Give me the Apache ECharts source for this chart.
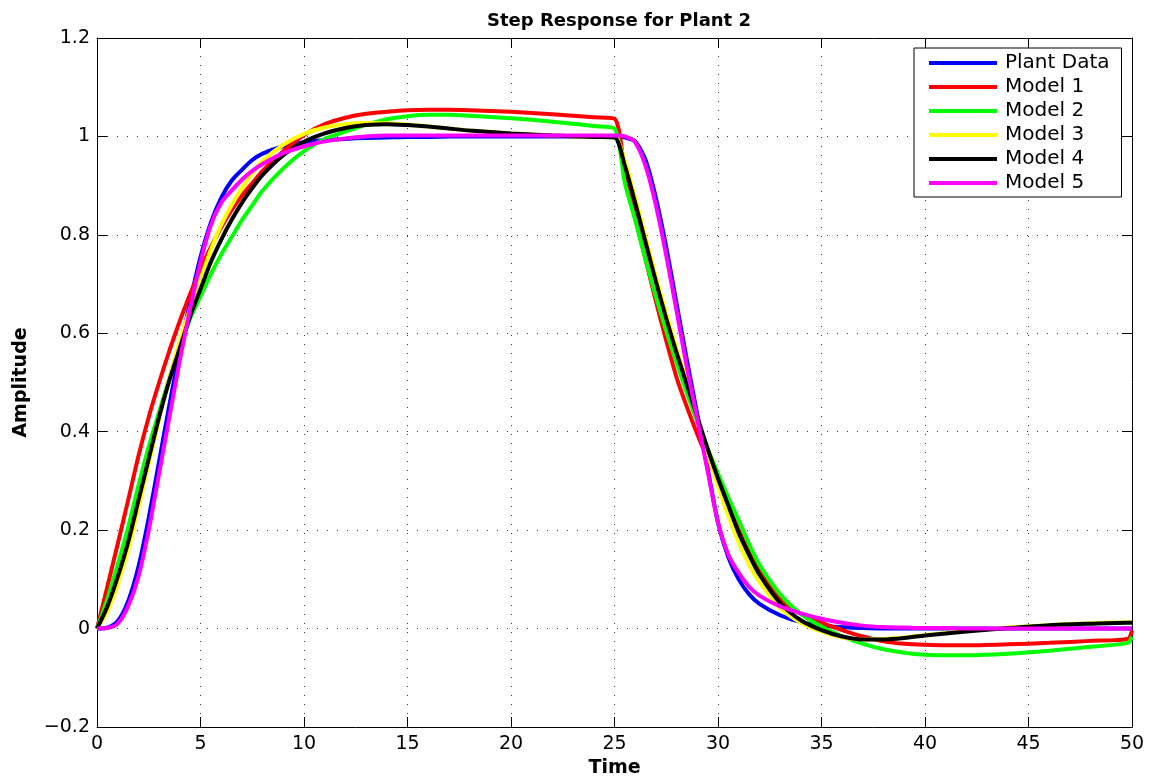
<!DOCTYPE html>
<html>
<head>
<meta charset="utf-8">
<script src="https://cdn.jsdelivr.net/npm/echarts@6/dist/echarts.min.js"></script>
<style>
  html, body { margin: 0; padding: 0; background: #fff; }
  #chart { width: 1150px; height: 783px; }
</style>
</head>
<body>
<div id="chart"></div>
<script>
// Sample times (s): input steps up at t = 0 and back down at t = 25
const timeSec = [
  0, 0.5, 1, 1.5, 2, 2.5, 3, 3.5, 4, 4.5, 5, 5.5, 6, 6.5, 7, 7.5, 8,
  9, 10, 11, 12, 13, 14, 15, 16, 17, 18, 20, 22, 24, 25,
  25.5, 26, 26.5, 27, 27.5, 28, 28.5, 29, 29.5, 30, 30.5, 31, 31.5, 32,
  33, 34, 35, 36, 37, 38, 39, 40, 41, 42, 44, 46, 48, 49.8, 50
];

const plantData = [
  0, 0.002, 0.015, 0.055, 0.125, 0.225, 0.34, 0.455, 0.565, 0.665,
  0.755, 0.825, 0.875, 0.91, 0.932, 0.952, 0.965, 0.98, 0.988, 0.993,
  0.995, 0.997, 0.998, 0.999, 0.999, 1.0, 1.0, 1.0, 1.0, 1.0, 1.0,
  0.998, 0.99, 0.952, 0.875, 0.775, 0.66, 0.545, 0.435, 0.325, 0.215,
  0.145, 0.1, 0.07, 0.05, 0.027, 0.013, 0.006, 0.003, 0.001, 0,
  0, 0, 0, 0, 0, 0, 0, 0, 0
];

const model1 = [
  0, 0.085, 0.172, 0.26, 0.35, 0.43, 0.5, 0.565, 0.625, 0.68,
  0.73, 0.775, 0.815, 0.85, 0.88, 0.905, 0.93, 0.97, 1.003, 1.025,
  1.038, 1.046, 1.05, 1.053, 1.054, 1.054, 1.053, 1.05, 1.045, 1.039, 1.036,
  0.93, 0.835, 0.75, 0.665, 0.585, 0.51, 0.45, 0.395, 0.345, 0.3,
  0.248, 0.2, 0.155, 0.118, 0.06, 0.03, 0.012, -0.003, -0.016, -0.026,
  -0.031, -0.033, -0.034, -0.034, -0.032, -0.029, -0.025, -0.021, -0.004
];

const model2 = [
  0, 0.06, 0.13, 0.205, 0.29, 0.37, 0.44, 0.51, 0.57, 0.63,
  0.675, 0.72, 0.76, 0.795, 0.83, 0.86, 0.89, 0.935, 0.97, 0.995,
  1.01, 1.024, 1.035, 1.041, 1.044, 1.044, 1.042, 1.037, 1.03, 1.021, 1.016,
  0.905, 0.83, 0.75, 0.675, 0.605, 0.54, 0.478, 0.42, 0.366, 0.315,
  0.266, 0.22, 0.172, 0.13, 0.07, 0.03, 0.004, -0.016, -0.031, -0.042,
  -0.049, -0.053, -0.054, -0.054, -0.051, -0.045, -0.037, -0.029, -0.017
];

const model3 = [
  0, 0.035, 0.09, 0.16, 0.245, 0.335, 0.425, 0.51, 0.585, 0.65,
  0.71, 0.77, 0.82, 0.86, 0.895, 0.925, 0.95, 0.983, 1.005, 1.018,
  1.025, 1.028, 1.027, 1.024, 1.02, 1.016, 1.012, 1.006, 1.002, 0.999, 0.999,
  0.95, 0.875, 0.795, 0.715, 0.64, 0.568, 0.5, 0.43, 0.355, 0.29,
  0.228, 0.175, 0.13, 0.095, 0.042, 0.012, -0.006, -0.018, -0.022, -0.021,
  -0.018, -0.013, -0.009, -0.005, 0.002, 0.007, 0.011, 0.013, 0.013
];

const model4 = [
  0, 0.045, 0.105, 0.175, 0.26, 0.345, 0.43, 0.505, 0.57, 0.635,
  0.69, 0.745, 0.79, 0.83, 0.865, 0.895, 0.922, 0.962, 0.989, 1.006,
  1.017, 1.023, 1.025, 1.023, 1.02, 1.016, 1.012, 1.006, 1.002, 0.999, 0.998,
  0.94, 0.865, 0.785, 0.705, 0.63, 0.56, 0.495, 0.43, 0.365, 0.305,
  0.25, 0.195, 0.15, 0.11, 0.052, 0.017, -0.003, -0.016, -0.022, -0.022,
  -0.019, -0.014, -0.01, -0.006, 0.001, 0.007, 0.01, 0.012, 0.012
];

const model5 = [
  0, 0.001, 0.01, 0.045, 0.105, 0.2, 0.315, 0.43, 0.545, 0.65,
  0.745, 0.82, 0.865, 0.89, 0.912, 0.93, 0.944, 0.966, 0.98, 0.99,
  0.996, 1.0, 1.002, 1.002, 1.002, 1.002, 1.002, 1.002, 1.002, 1.002, 1.002,
  1.0, 0.988, 0.94, 0.86, 0.758, 0.645, 0.53, 0.425, 0.32, 0.215,
  0.15, 0.113, 0.085, 0.067, 0.045, 0.031, 0.02, 0.012, 0.006, 0.003,
  0.002, 0.001, 0.001, 0, 0, 0, 0, 0, 0
];

const seriesNames = ['Plant Data', 'Model 1', 'Model 2', 'Model 3', 'Model 4', 'Model 5'];
const seriesValues = [plantData, model1, model2, model3, model4, model5];
const seriesColors = ['#0000ff', '#ff0000', '#00ff00', '#ffff00', '#000000', '#ff00ff'];

const xTickStep = 5;
const yTickStep = 0.2;

const FONT = 'DejaVu Sans';

function yLabel(v) {
  const r = Math.round(v * 10) / 10;
  return (r < 0 ? '\u2212' : '') + String(Math.abs(r));
}

const dottedGrid = (dash) => ({
  show: true,
  lineStyle: { color: '#3a3a3a', width: 1, type: dash }
});

const chart = echarts.init(document.getElementById('chart'), null, { renderer: 'canvas' });

chart.setOption({
  animation: false,
  backgroundColor: '#ffffff',
  title: {
    text: 'Step Response for Plant 2',
    left: 614,
    textAlign: 'center',
    top: 7,
    textStyle: { fontFamily: FONT, fontSize: 18, fontWeight: 'bold', color: '#000' }
  },
  grid: {
    left: 97, right: 18, top: 38, bottom: 56,
    containLabel: false,
    outerBoundsMode: 'none'
  },
  legend: {
    orient: 'vertical',
    left: 914,
    top: 48,
    data: seriesNames,
    icon: 'rect',
    itemWidth: 68,
    itemHeight: 4,
    itemGap: 4,
    padding: [5, 12, 4, 15],
    backgroundColor: '#ffffff',
    borderColor: '#000000',
    borderWidth: 1,
    borderRadius: 0,
    textStyle: {
      fontFamily: FONT, fontSize: 20, lineHeight: 20, color: '#000',
      padding: [0, 0, 0, 3]
    }
  },
  xAxis: [
    {
      type: 'value', min: 0, max: 50, interval: xTickStep, position: 'bottom',
      name: 'Time', nameLocation: 'middle', nameGap: 30,
      nameTextStyle: { fontFamily: FONT, fontSize: 19, fontWeight: 'bold', color: '#000' },
      axisLine: { show: true, onZero: false, lineStyle: { color: '#000', width: 1 } },
      axisTick: { show: true, inside: true, length: 10, lineStyle: { color: '#000' } },
      axisLabel: { fontFamily: FONT, fontSize: 19, color: '#000', margin: 8 },
      splitLine: dottedGrid([1, 8])
    },
    {
      type: 'value', min: 0, max: 50, interval: xTickStep, position: 'top',
      axisLine: { show: true, onZero: false, lineStyle: { color: '#000', width: 1 } },
      axisTick: { show: true, inside: true, length: 10, lineStyle: { color: '#000' } },
      axisLabel: { show: false },
      splitLine: { show: false }
    }
  ],
  yAxis: [
    {
      type: 'value', min: -0.2, max: 1.2, interval: yTickStep, position: 'left',
      name: 'Amplitude', nameLocation: 'middle', nameGap: 66,
      nameTextStyle: { fontFamily: FONT, fontSize: 19, fontWeight: 'bold', color: '#000' },
      axisLine: { show: true, onZero: false, lineStyle: { color: '#000', width: 1 } },
      axisTick: { show: true, inside: true, length: 10, lineStyle: { color: '#000' } },
      axisLabel: { fontFamily: FONT, fontSize: 19, color: '#000', margin: 7, formatter: yLabel },
      splitLine: dottedGrid([1, 9])
    },
    {
      type: 'value', min: -0.2, max: 1.2, interval: yTickStep, position: 'right',
      axisLine: { show: true, onZero: false, lineStyle: { color: '#000', width: 1 } },
      axisTick: { show: true, inside: true, length: 10, lineStyle: { color: '#000' } },
      axisLabel: { show: false },
      splitLine: { show: false }
    }
  ],
  series: seriesNames.map((name, k) => ({
    name: name,
    type: 'line',
    xAxisIndex: 0,
    yAxisIndex: 0,
    showSymbol: false,
    smooth: 0.25,
    color: seriesColors[k],
    lineStyle: { color: seriesColors[k], width: 4 },
    z: 2 + k,
    data: timeSec.map((t, i) => [t, seriesValues[k][i]])
  }))
});
</script>
</body>
</html>
